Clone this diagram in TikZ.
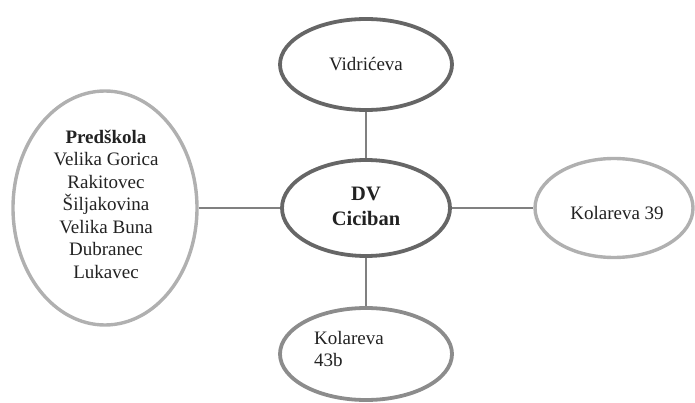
\documentclass[tikz,border=0pt]{standalone}
\usepackage{fontspec}
\setmainfont{Liberation Serif}
\usetikzlibrary{shapes.geometric}
\definecolor{darkring}{HTML}{666666}
\definecolor{midring}{HTML}{8C8C8C}
\definecolor{lightring}{HTML}{B0B0B0}
\definecolor{linkgray}{HTML}{808080}
\definecolor{txt}{HTML}{222222}
\begin{document}
\begin{tikzpicture}[x=1pt,y=-1pt,
  ring/.style={ellipse,draw,line width=3.8pt,inner sep=0pt,fill=white},
  link/.style={draw=linkgray,line width=1.6pt},
  lbl/.style={font=\fontsize{19}{22.5}\selectfont,text=txt,inner sep=0pt,align=center}]
\useasboundingbox (0,0) rectangle (695,403);
\node[ring,draw=darkring,minimum width=172pt,minimum height=91pt] (vid) at (366,64.5) {};
\node[ring,draw=darkring,minimum width=168pt,minimum height=96pt] (dv) at (366,208) {};
\node[ring,draw=midring,minimum width=172pt,minimum height=92pt] (k43) at (366,354) {};
\node[ring,draw=lightring,line width=3.4pt,minimum width=184pt,minimum height=234pt] (pre) at (105,208) {};
\node[ring,draw=lightring,line width=3.4pt,minimum width=158pt,minimum height=99pt] (k39) at (614,208) {};
\draw[link] (vid.south) -- (dv.north);
\draw[link] (dv.south) -- (k43.north);
\draw[link] (pre.east) -- (dv.west);
\draw[link] (dv.east) -- (k39.west);
\node[lbl] (tvid) at (366,64) {Vidrićeva};
\node[lbl,font=\fontsize{20.5}{25}\selectfont\bfseries] (tdv) at (366,206) {DV\\Ciciban};
\node[lbl,align=left,anchor=west] (tk43) at (314,349) {Kolareva\\43b};
\node[lbl] (tpre) at (106,204) {\textbf{Predškola}\\Velika Gorica\\Rakitovec\\Šiljakovina\\Velika Buna\\Dubranec\\Lukavec};
\node[lbl] (tk39) at (617,213) {Kolareva 39};
\end{tikzpicture}
\end{document}
